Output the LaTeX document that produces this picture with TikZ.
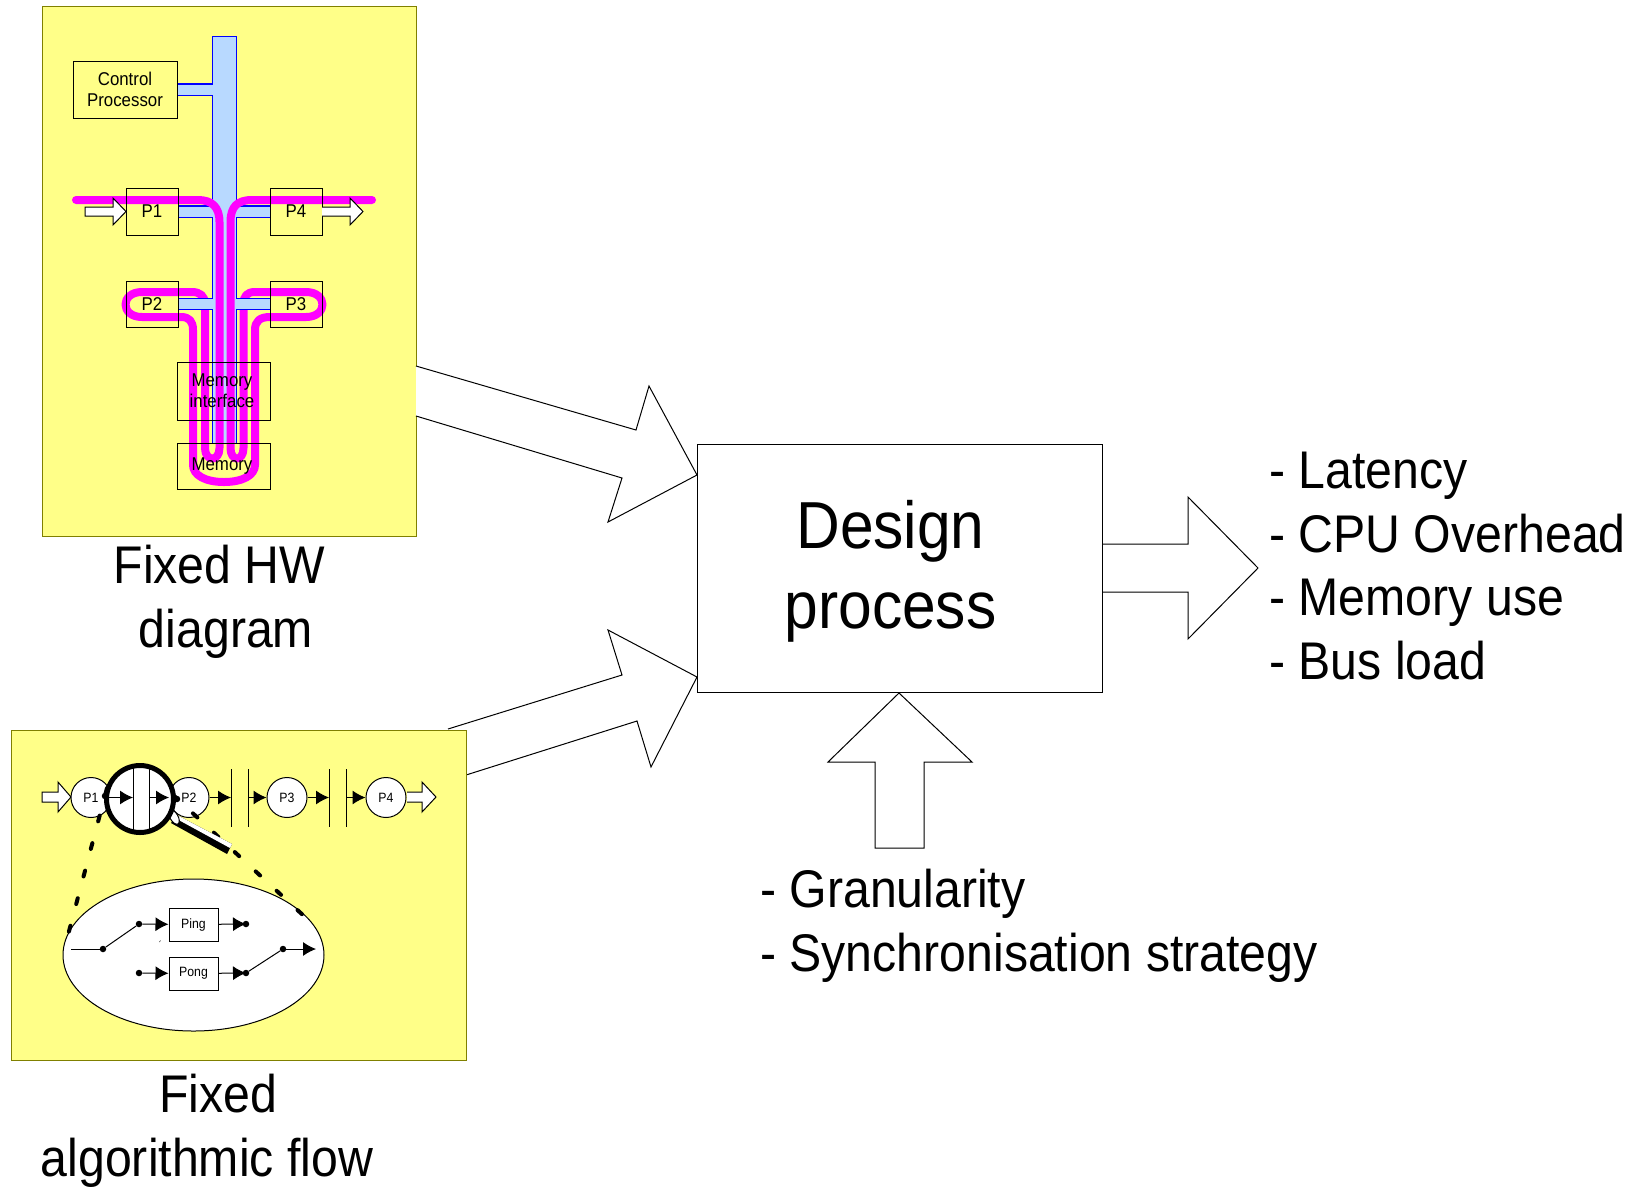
\documentclass[tikz,border=0pt]{standalone}
\usepackage{fontspec}
\setmainfont{Liberation Sans}[FakeStretch=0.91]
\usetikzlibrary{arrows.meta,backgrounds,shapes.geometric}
\definecolor{panelyellow}{RGB}{255,255,136}
\definecolor{paneledge}{RGB}{128,128,0}
\definecolor{busblue}{RGB}{184,217,255}
\definecolor{routepink}{RGB}{255,0,255}
\tikzset{
	panel/.style={draw=paneledge,fill=panelyellow,line width=1pt},
	hwbox/.style={draw=black,line width=1pt,inner sep=0pt,align=center,font=\fontsize{18.5}{21}\selectfont},
	flownode/.style={draw=black,fill=white,circle,line width=1pt,minimum size=40pt,inner sep=0pt,font=\fontsize{13.5}{15}\selectfont},
	bufbox/.style={draw=black,fill=white,line width=1pt,minimum width=49pt,minimum height=33pt,inner sep=0pt,font=\fontsize{13.5}{15}\selectfont},
	stub/.style={draw=blue,double=busblue,line width=1.3pt,double distance=10pt},
	route/.style={draw=routepink,line width=8pt,line cap=round,line join=round},
	blockarrow/.style={draw=black,fill=white,line width=1pt},
	flowarrow/.style={draw=black,line width=1pt,-{Latex[length=13pt,width=14pt]}},
	bar/.style={draw=black,line width=1pt},
	dot/.style={circle,fill=black,inner sep=0pt,minimum size=6.5pt},
	zoomline/.style={draw=black,line width=4pt,line cap=round,dash pattern=on 6pt off 22.5pt},
	label/.style={inner sep=0pt,align=center,font=\fontsize{53}{64}\selectfont},
	listing/.style={inner sep=0pt,anchor=west,align=left,font=\fontsize{53}{63.6}\selectfont},
}
\begin{document}
\begin{tikzpicture}[x=1pt,y=-1pt]
	\useasboundingbox (0,0) rectangle (1633,1187);
	\draw[blockarrow] (416,366) -- (636,430) -- (649,386) -- (697,475) -- (608,522) -- (622,478) -- (416,416);
	\draw[blockarrow] (448,729) -- (622,675) -- (608,630) -- (697,677) -- (651,767) -- (637,721) -- (466,775);
	\draw[blockarrow] (1103,544) -- (1188,544) -- (1188,497) -- (1258,568) -- (1188,639) -- (1188,592) -- (1103,592);
	\draw[blockarrow] (899,693) -- (972,762) -- (924,762) -- (924,848) -- (875,848) -- (875,762) -- (828,762) -- cycle;
	\node[draw=black,fill=white,line width=1pt,minimum width=405pt,minimum height=248pt,inner sep=0pt] (design) at (899.5,568) {};
	\node[inner sep=0pt,align=center,font=\fontsize{66.5}{80}\selectfont] (designlabel) at ([xshift=-9pt,yshift=-3pt]design.center) {Design\\process};

	\node[hwbox,minimum width=104pt,minimum height=57pt] (ctrl) at (125,89.5) {Control\\Processor};
	\node[hwbox,minimum width=52pt,minimum height=47pt] (p1) at (152,211.5) {P1};
	\node[hwbox,minimum width=52pt,minimum height=47pt] (p4) at (296,211.5) {P4};
	\node[hwbox,minimum width=52pt,minimum height=46pt] (p2) at (152,304) {P2};
	\node[hwbox,minimum width=52pt,minimum height=46pt] (p3) at (296,304) {P3};
	\node[hwbox,minimum width=93pt,minimum height=58pt] (memif) at (224,391) {Memory\rule{4pt}{0pt}\\interface\rule{4pt}{0pt}};
	\node[hwbox,minimum width=93pt,minimum height=46pt] (mem) at (224,466) {\raisebox{-2pt}{Memory}\rule{4pt}{0pt}};
	\node[inner sep=0pt,minimum width=23pt,minimum height=406pt] (bus) at (224.5,240) {};
	\begin{scope}[on background layer]
		\path[panel] (42,6) rectangle (416,536);
		\draw[draw=blue,fill=busblue,line width=1.3pt] (bus.north west) rectangle (bus.south east);
		\draw[stub] (ctrl.east) -- (ctrl.east -| bus.west);
		\draw[stub] (p1.east) -- (p1.east -| bus.west);
		\draw[stub] (p4.west) -- (p4.west -| bus.east);
		\draw[route] (76,200) -- (198,200) .. controls (212,200) and (219.5,207) .. (219.5,222) -- (219.5,448) .. controls (219.5,462) and (205,462) .. (205,448) -- (205,304) .. controls (205,296) and (200,292) .. (192,292) -- (142,292) .. controls (120,292) and (120,317) .. (142,317) -- (181,317) .. controls (189,317) and (193,321) .. (193,330) -- (193,465) .. controls (193,475) and (205,482) .. (224,482) .. controls (243,482) and (255,475) .. (255,465) -- (255,330) .. controls (255,321) and (260,317) .. (270,317) -- (306,317) .. controls (328,317) and (328,292) .. (306,292) -- (255,292) .. controls (247,292) and (243.5,296) .. (243.5,304) -- (243.5,448) .. controls (243.5,462) and (230.5,462) .. (230.5,448) -- (230.5,222) .. controls (230.5,207) and (237,200) .. (252,200) -- (372,200);
		\draw[stub] (p2.east) -- (p2.east -| bus.west);
		\draw[stub] (p3.west) -- (p3.west -| bus.east);
	\end{scope}
	\draw[blockarrow] (85,207) -- (113,207) -- (113,198) -- (126,211.5) -- (113,225) -- (113,216) -- (85,216) -- cycle;
	\draw[blockarrow] (322,207) -- (350,207) -- (350,198) -- (363,211.5) -- (350,225) -- (350,216) -- (322,216);
	\node[label] (hwlabel) at (226,602) {Fixed HW\rule{13pt}{0pt}\\diagram};

	\path[panel] (11,730) rectangle (466,1060);
	\draw[blockarrow] (42,792) -- (58,792) -- (58,782) -- (71,797) -- (58,812) -- (58,802) -- (42,802) -- cycle;
	\draw[blockarrow] (407,792) -- (422,792) -- (422,782) -- (436,797) -- (422,812) -- (422,802) -- (407,802);
	\node[flownode] (f1) at (91,797.5) {P1};
	\node[flownode] (f2) at (189,797.5) {P2};
	\node[flownode] (f3) at (287,797.5) {P3};
	\node[flownode] (f4) at (386,797.5) {P4};
	\coordinate (b1) at (231,797.5);
	\coordinate (b2) at (248,797.5);
	\coordinate (b3) at (329,797.5);
	\coordinate (b4) at (346,797.5);
	\draw[bar] (231,769) -- (231,827);
	\draw[bar] (248,769) -- (248,827);
	\draw[bar] (329,769) -- (329,827);
	\draw[bar] (346,769) -- (346,827);
	\draw[flowarrow] (f2) -- (b1);
	\draw[flowarrow] (b2) -- (f3);
	\draw[flowarrow] (f3) -- (b3);
	\draw[flowarrow] (b4) -- (f4);

	\node[draw=black,fill=white,ellipse,line width=1pt,minimum width=261pt,minimum height=152pt,inner sep=0pt] (lens) at (193.5,955) {};
	\draw[zoomline] (107,788) -- (68,935);
	\draw[zoomline] (172,794) -- (305,917);
	\node[dot] (lensl) at (105,796) {};
	\node[dot] (lensr) at (177,799) {};

	\fill[black] (177,815) -- (232,844) -- (227,854) -- (171,823) -- cycle;
	\fill[white] (177,815) -- (232,844) -- (230,848) -- (175,818) -- cycle;
	\draw[black,fill=white,line width=1pt,rotate around={30:(174,817)}] (174,817) ellipse (4pt and 8pt);
	\node[draw=black,fill=white,circle,line width=5pt,minimum size=67pt,inner sep=0pt] (glass) at (140,799) {};
	\coordinate (g1) at (133,797.5);
	\coordinate (g2) at (149,797.5);
	\coordinate (g3) at (169,797.5);
	\draw[bar] (133,767) -- (133,831);
	\draw[bar] (149,767) -- (149,831);
	\draw[flowarrow] (108,797.5) -- (g1);
	\draw[flowarrow] (g2) -- (g3);

	\node[bufbox] (ping) at (193.5,924.5) {Ping};
	\node[bufbox] (pong) at (193.5,973.5) {Pong};
	\node[dot] (s0) at (103,949) {};
	\node[dot] (s1) at (139,924) {};
	\node[dot] (s2) at (139,973) {};
	\node[dot] (s3) at (246,924) {};
	\node[dot] (s4) at (246,973) {};
	\node[dot] (s5) at (283,949) {};
	\coordinate (lensin) at (71,949);
	\coordinate (lensout) at (316,949);
	\draw[bar] (lensin) -- (s0);
	\draw[bar] (s0) -- (s1);
	\draw[bar] (s4) -- (s5);
	\draw[flowarrow] (s1) -- (ping);
	\draw[flowarrow] (s2) -- (pong);
	\draw[flowarrow] (ping) -- (s3.center);
	\draw[flowarrow] (pong) -- (s4.center);
	\draw[flowarrow] (s5) -- (lensout);
	\draw[black,line width=0.5pt] (159.5,942) -- (160.5,940.5);
	\node[label] (flowlabel) at (218,1131) {Fixed\\algorithmic flow\rule{22pt}{0pt}};

	\node[listing] (outputs) at (1269,566) {- Latency\\- CPU Overhead\\- Memory use\\- Bus load};
	\node[listing] (choices) at (760,926) {- Granularity\\- Synchronisation strategy};
\end{tikzpicture}
\end{document}
